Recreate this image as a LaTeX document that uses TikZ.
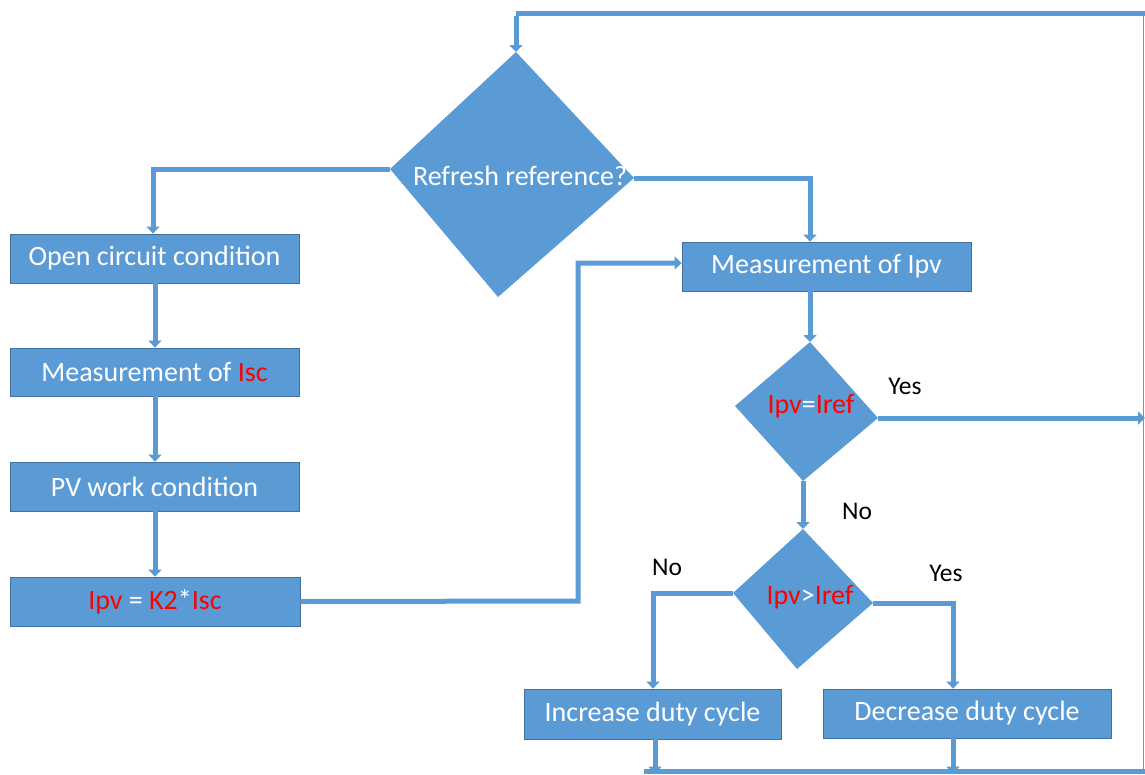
\documentclass[tikz,border=0pt]{standalone}
\usepackage{fontspec}
\setmainfont{Carlito}
\usetikzlibrary{arrows.meta}
\definecolor{obl}{HTML}{5B9BD5}
\definecolor{obd}{HTML}{41719C}
\definecolor{ored}{HTML}{FF0000}
\begin{document}
\begin{tikzpicture}[x=1pt,y=-1pt,
  box/.style={draw=obd,line width=0.8pt,fill=obl,text=white,minimum height=49pt,font=\fontsize{28}{30}\selectfont,inner sep=0pt},
  dtext/.style={font=\fontsize{28}{30}\selectfont,text=white,inner sep=0pt},
  lab/.style={font=\fontsize{25.5}{28}\selectfont,text=black,inner sep=0pt},
  conn/.style={draw=obl,line width=5pt},
  arr/.style={conn,-{Triangle[length=7pt,width=13pt]}},
  thin/.style={draw=obl,line width=1.6pt}]
\useasboundingbox (0,0) rectangle (1145,774);
% boxes
\node[box,minimum width=289pt] (b1) at (154.5,258.5) {Open circuit condition};
\node[box,minimum width=289pt,minimum height=48pt] (b2) at (154.5,372) {Measurement of \textcolor{ored}{Isc}};
\node[box,minimum width=289pt] (b3) at (154.5,486.5) {PV work condition};
\node[box,minimum width=290pt] (b4) at (155,601.5) {\textcolor{ored}{Ipv} = \textcolor{ored}{K2}*\textcolor{ored}{Isc}};
\node[box,minimum width=289pt] (b5) at (826.5,266.5) {Measurement of Ipv};
\node[box,minimum width=257pt,minimum height=50pt] (b6) at (652.5,714) {Increase duty cycle};
\node[box,minimum width=288pt] (b7) at (967,713.5) {Decrease duty cycle};
% diamond 1
\coordinate (d1t) at (516,52);
\coordinate (d1l) at (390,169);
\coordinate (d1b) at (498,297);
\coordinate (d1r) at (634,178);
\fill[obl] (d1t) -- (d1r) -- (d1b) -- (d1l) -- cycle;
\node[dtext] (d1) at (520,176) {Refresh reference?};
% diamond 2
\coordinate (d2t) at (810,342);
\coordinate (d2l) at (735,406);
\coordinate (d2b) at (803,481);
\coordinate (d2r) at (878,418);
\fill[obl] (d2t) -- (d2r) -- (d2b) -- (d2l) -- cycle;
\node[dtext] (d2) at (811,406) {\textcolor{ored}{Ipv}=\textcolor{ored}{Iref}};
% diamond 3
\coordinate (d3t) at (803,529);
\coordinate (d3l) at (733,593);
\coordinate (d3b) at (797,669);
\coordinate (d3r) at (873,603);
\fill[obl] (d3t) -- (d3r) -- (d3b) -- (d3l) -- cycle;
\node[dtext] (d3) at (810,597) {\textcolor{ored}{Ipv}>\textcolor{ored}{Iref}};
% loop frame
\coordinate (tl) at (516,13);
\coordinate (tr) at (1145,13);
\coordinate (rr) at (1143.5,13);
\coordinate (br) at (1143.5,771);
\coordinate (bl) at (644,771);
\coordinate (be) at (1145,771);
\coordinate (yesend) at (1145,418);
\draw[conn] (tl) -- (tr);
\draw[thin] (rr) -- (br);
\draw[conn] (bl) -- (be);
\draw[arr] ([yshift=-2.5pt]tl) -- (d1t);
% left branch
\draw[arr] (d1l) -- (153,169) -- (b1.north -| 153,0);
\draw[arr] (b1.south -| 155,0) -- (b2.north -| 155,0);
\draw[arr] (b2.south -| 155,0) -- (b3.north -| 155,0);
\draw[arr] (b3.south -| 155,0) -- (b4.north -| 155,0);
\draw[arr] (b4.east) -- (578,601) -- (578,263) -- (b5.west |- 0,263);
% right branch
\draw[arr] (d1r) -- (810,178) -- (b5.north -| 810,0);
\draw[arr] (b5.south -| 810,0) -- (d2t);
\draw[arr] (d2r) -- (yesend);
\draw[arr] (d2b) -- (d3t);
\draw[arr] (d3l) -- (653,593) -- (b6.north -| 653,0);
\draw[arr] (d3r) -- (953,603) -- (b7.north -| 953,0);
\draw[arr] (b6.south -| 655,0) -- ([yshift=-2.5pt]bl -| 655,0);
\draw[arr] (b7.south -| 953,0) -- ([yshift=-2.5pt]bl -| 953,0);
% labels
\node[lab] (y1) at (905,386) {Yes};
\node[lab] (n1) at (857,511) {No};
\node[lab] (n2) at (667,567) {No};
\node[lab] (y2) at (946,573) {Yes};
\end{tikzpicture}
\end{document}
